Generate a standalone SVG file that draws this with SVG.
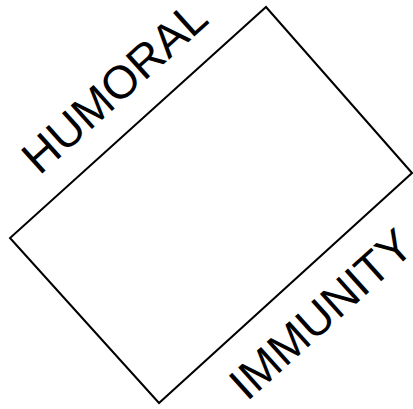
<svg xmlns="http://www.w3.org/2000/svg" width="413" height="409" viewBox="0 0 413 409">
  <style>
    .lbl { font-family: "Liberation Sans", Arial, sans-serif; font-size: 46px; fill: #000; }
    .box { fill: none; stroke: #000; stroke-width: 2; stroke-linejoin: miter; }
  </style>
  <rect x="0" y="0" width="413" height="409" fill="#fff"/>
  <g id="rect">
    <polygon class="box" points="266,7 412,173 159,403 10,238"/>
  </g>
  <g id="humoral">
    <text class="lbl" transform="translate(39.6,175.9) rotate(-42)">HUMORAL</text>
  </g>
  <g id="immunity">
    <text class="lbl" transform="translate(247,402) rotate(-42)">IMMUNITY</text>
  </g>
</svg>
